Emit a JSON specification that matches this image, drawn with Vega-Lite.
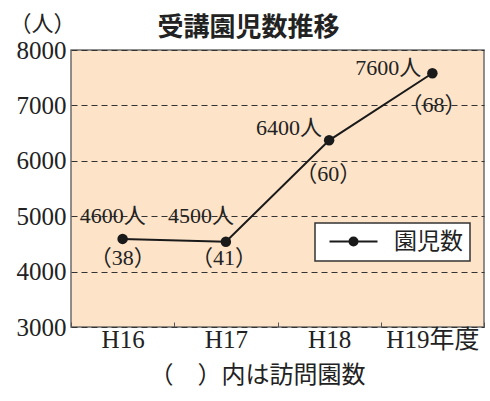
{
  "$schema": "https://vega.github.io/schema/vega-lite/v6.json",
  "width": 413,
  "height": 277,
  "autosize": {"type": "none"},
  "padding": {"left": 71, "top": 50, "right": 6, "bottom": 74},
  "background": "white",
  "title": {
    "text": "受講園児数推移",
    "font": "Noto Sans CJK JP",
    "fontSize": 26,
    "fontWeight": "bold",
    "color": "#222222",
    "anchor": "middle",
    "dx": -29,
    "offset": -29
  },
  "config": {
    "font": "Liberation Serif, Noto Sans CJK JP",
    "view": {"fill": "#fde4c9", "stroke": "#6b6b6b", "strokeWidth": 1.5},
    "text": {"font": "Liberation Serif, Noto Sans CJK JP", "fontSize": 22, "color": "#222222"}
  },
  "data": {
    "values": [
      {"year": "H16", "count": 4590, "label": "4600人", "visits": "（38）"},
      {"year": "H17", "count": 4540, "label": "4500人", "visits": "（41）"},
      {"year": "H18", "count": 6370, "label": "6400人", "visits": "（60）"},
      {"year": "H19年度", "count": 7580, "label": "7600人", "visits": "（68）"}
    ]
  },
  "encoding": {
    "x": {
      "field": "year",
      "type": "nominal",
      "sort": null,
      "scale": {"type": "band", "paddingInner": 0, "paddingOuter": 0},
      "axis": {
        "title": "（　）内は訪問園数",
        "titleFont": "Liberation Serif, Noto Sans CJK JP",
        "titleFontSize": 24,
        "titleFontWeight": "normal",
        "titleColor": "#222222",
        "titleX": 186,
        "titleY": 48,
        "titleAlign": "center",
        "titleBaseline": "middle",
        "labelAngle": 0,
        "labelFont": "Liberation Serif, Noto Sans CJK JP",
        "labelFontSize": 25,
        "labelColor": "#222222",
        "labelPadding": 5,
        "tickBand": "extent",
        "ticks": true,
        "tickSize": -5,
        "tickColor": "#555555",
        "tickWidth": 1,
        "domain": false,
        "grid": false
      }
    },
    "y": {
      "field": "count",
      "type": "quantitative",
      "scale": {"domain": [3000, 8000], "nice": false, "zero": false},
      "axis": {
        "values": [3000, 4000, 5000, 6000, 7000, 8000],
        "format": "d",
        "title": "（人）",
        "titleFont": "Liberation Serif, Noto Sans CJK JP",
        "titleFontSize": 22,
        "titleFontWeight": "normal",
        "titleColor": "#222222",
        "titleAngle": 0,
        "titleX": -29,
        "titleY": -27,
        "titleAlign": "center",
        "titleBaseline": "middle",
        "labelFont": "Liberation Serif, Noto Sans CJK JP",
        "labelFontSize": 25,
        "labelColor": "#222222",
        "labelPadding": 5,
        "ticks": false,
        "domain": false,
        "grid": true,
        "gridColor": "#333333",
        "gridDash": [6, 4],
        "gridWidth": 1
      }
    }
  },
  "layer": [
    {
      "mark": {"type": "line", "strokeWidth": 2},
      "encoding": {
        "color": {
          "datum": "園児数",
          "scale": {"range": ["#1a1a1a"]},
          "legend": {
            "title": null,
            "orient": "none",
            "legendX": 244,
            "legendY": 173,
            "padding": 7,
            "fillColor": "white",
            "strokeColor": "#333333",
            "cornerRadius": 0,
            "symbolType": "M-0.5,0L5.5,0M2,0A0.5,0.5,0,1,1,3,0A0.5,0.5,0,1,1,2,0Z",
            "symbolSize": 256,
            "symbolStrokeWidth": 2,
            "labelOffset": 49,
            "labelFont": "Liberation Serif, Noto Sans CJK JP",
            "labelFontSize": 23,
            "labelColor": "#222222",
            "labelLimit": 200,
            "encode": {
              "legend": {
                "update": {
                  "strokeWidth": {"value": 1.5}
                }
              },
              "symbols": {
                "update": {
                  "fill": {"value": "#1a1a1a"},
                  "stroke": {"value": "#1a1a1a"},
                  "strokeWidth": {"value": 2},
                  "opacity": {"value": 1}
                }
              }
            }
          }
        }
      }
    },
    {
      "mark": {"type": "point", "filled": true, "size": 110, "color": "#1a1a1a", "opacity": 1}
    },
    {
      "transform": [{"filter": "datum.year === 'H16'"}],
      "mark": {"type": "text", "align": "center", "baseline": "middle", "dx": -10, "dy": -23},
      "encoding": {"text": {"field": "label"}}
    },
    {
      "transform": [{"filter": "datum.year === 'H16'"}],
      "mark": {"type": "text", "align": "center", "baseline": "middle", "dx": 0, "dy": 19},
      "encoding": {"text": {"field": "visits"}}
    },
    {
      "transform": [{"filter": "datum.year === 'H17'"}],
      "mark": {"type": "text", "align": "center", "baseline": "middle", "dx": -25, "dy": -26},
      "encoding": {"text": {"field": "label"}}
    },
    {
      "transform": [{"filter": "datum.year === 'H17'"}],
      "mark": {"type": "text", "align": "center", "baseline": "middle", "dx": -2, "dy": 16},
      "encoding": {"text": {"field": "visits"}}
    },
    {
      "transform": [{"filter": "datum.year === 'H18'"}],
      "mark": {"type": "text", "align": "right", "baseline": "middle", "dx": -7, "dy": -12},
      "encoding": {"text": {"field": "label"}}
    },
    {
      "transform": [{"filter": "datum.year === 'H18'"}],
      "mark": {"type": "text", "align": "center", "baseline": "middle", "dx": -1, "dy": 34},
      "encoding": {"text": {"field": "visits"}}
    },
    {
      "transform": [{"filter": "datum.year === 'H19年度'"}],
      "mark": {"type": "text", "align": "right", "baseline": "middle", "dx": -11, "dy": -5},
      "encoding": {"text": {"field": "label"}}
    },
    {
      "transform": [{"filter": "datum.year === 'H19年度'"}],
      "mark": {"type": "text", "align": "center", "baseline": "middle", "dx": 1, "dy": 32},
      "encoding": {"text": {"field": "visits"}}
    }
  ]
}
